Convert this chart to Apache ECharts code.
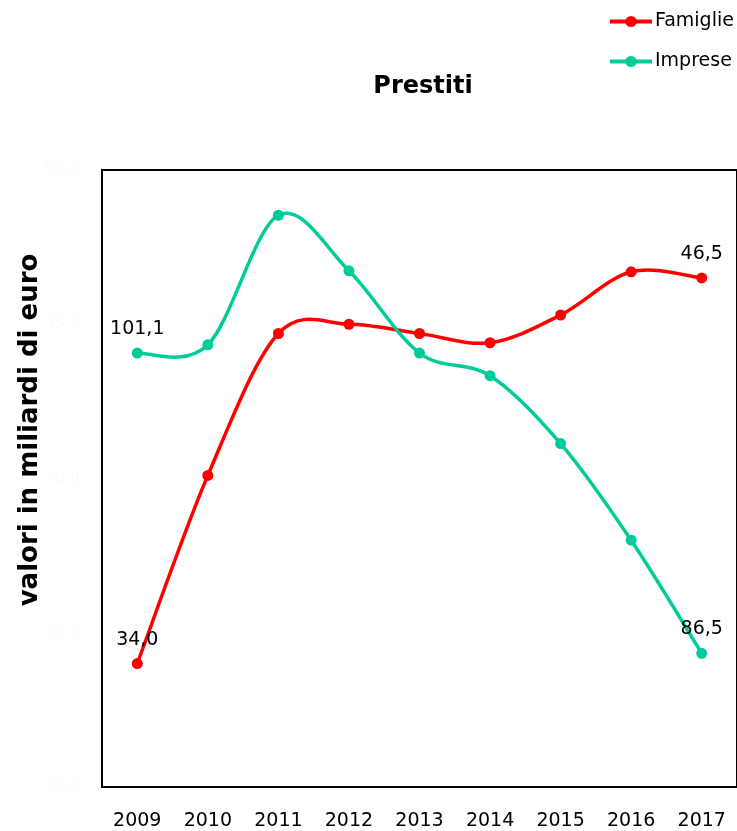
<!DOCTYPE html>
<html><head><meta charset="utf-8">
<script src="https://cdn.jsdelivr.net/npm/echarts@6/dist/echarts.min.js"></script>
<style>html,body{margin:0;padding:0;background:#fff}#c{width:737px;height:831px}</style>
</head><body><div id="c"></div>
<script>
const years = ['2009','2010','2011','2012','2013','2014','2015','2016','2017'];
const famiglie = [34.0, 40.1, 44.7, 45.0, 44.7, 44.4, 45.3, 46.7, 46.5];
const imprese = [101.1, 101.5, 107.8, 105.1, 101.1, 100.0, 96.7, 92.0, 86.5];
const leftTicks = [30, 35, 40, 45, 50];
const rightRange = [80, 110];

const FONT = 'DejaVu Sans';
const RED = '#ff0000', TEAL = '#00cc99';
const fmt = v => v.toFixed(1).replace('.', ',');
const endLabel = {
  show: true, position: 'top', distance: 9, color: '#000',
  fontFamily: FONT, fontSize: 19,
  formatter: p => (p.dataIndex === 0 || p.dataIndex === years.length - 1) ? fmt(p.value) : ''
};

// Catmull-Rom style smoothed segment (as in spreadsheet smoothed lines), positions via the chart's own scales
function smoothSeg(values, color) {
  return function (params, api) {
    const i = params.dataIndex, n = values.length;
    if (i >= n - 1) return null;
    const c = k => api.coord([Math.max(0, Math.min(n - 1, k)), values[Math.max(0, Math.min(n - 1, k))]]);
    const p0 = c(i - 1), p1 = c(i), p2 = c(i + 1), p3 = c(i + 2);
    const t = 1 / 6;
    return {
      type: 'bezierCurve',
      shape: {
        x1: p1[0], y1: p1[1], x2: p2[0], y2: p2[1],
        cpx1: p1[0] + (p2[0] - p0[0]) * t, cpy1: p1[1] + (p2[1] - p0[1]) * t,
        cpx2: p2[0] - (p3[0] - p1[0]) * t, cpy2: p2[1] - (p3[1] - p1[1]) * t
      },
      style: {stroke: color, lineWidth: 3.5, fill: null, lineCap: 'round'}
    };
  };
}

const chart = echarts.init(document.getElementById('c'), null, {renderer: 'canvas'});
chart.setOption({
  animation: false,
  backgroundColor: '#fff',
  textStyle: {fontFamily: FONT, color: '#000'},
  title: {
    text: 'Prestiti', left: 418, top: 70, textAlign: 'center',
    textStyle: {fontFamily: FONT, fontWeight: 'bold', fontSize: 24, color: '#000'}
  },
  legend: {
    orient: 'vertical', left: 608, top: 12, padding: 0, itemWidth: 42, itemHeight: 14, itemGap: 21,
    lineStyle: {width: 4, opacity: 1},
    textStyle: {fontFamily: FONT, fontSize: 19, color: '#000', padding: [0, 0, 0, -2]},
    data: ['Famiglie', 'Imprese']
  },
  graphic: [{
    type: 'text', x: 30, y: 430, rotation: Math.PI / 2,
    style: {text: 'valori in miliardi di euro', fontFamily: FONT, fontWeight: 'bold',
      fontSize: 26, fill: '#000', align: 'center', verticalAlign: 'middle'}
  }],
  grid: {left: 102, top: 170, width: 638, height: 618, show: true,
    borderColor: '#000', borderWidth: 2, backgroundColor: 'transparent', containLabel: false},
  xAxis: {
    type: 'category', data: years, boundaryGap: true,
    axisLine: {show: false}, axisTick: {show: false},
    axisLabel: {color: '#000', fontFamily: FONT, fontSize: 19, margin: 25}
  },
  yAxis: [{
    type: 'value', min: leftTicks[0], max: leftTicks[leftTicks.length - 1], interval: 5,
    axisLine: {show: false}, axisTick: {show: false}, splitLine: {show: false},
    axisLabel: {color: '#fbfbfb', fontFamily: FONT, fontSize: 16, margin: 22, formatter: fmt}
  }, {
    type: 'value', min: rightRange[0], max: rightRange[1],
    axisLine: {show: false}, axisTick: {show: false}, splitLine: {show: false},
    axisLabel: {show: false}
  }],
  series: [{
    name: 'famiglieCurve', type: 'custom', yAxisIndex: 0, z: 1,
    data: famiglie.map((v, i) => [i, v]), renderItem: smoothSeg(famiglie, RED)
  }, {
    name: 'impreseCurve', type: 'custom', yAxisIndex: 1, z: 1,
    data: imprese.map((v, i) => [i, v]), renderItem: smoothSeg(imprese, TEAL)
  }, {
    name: 'Famiglie', type: 'line', yAxisIndex: 0, data: famiglie, z: 3,
    symbol: 'circle', symbolSize: 11, color: RED,
    lineStyle: {width: 3.5, color: RED, opacity: 0}, itemStyle: {color: RED},
    label: endLabel
  }, {
    name: 'Imprese', type: 'line', yAxisIndex: 1, data: imprese, z: 3,
    symbol: 'circle', symbolSize: 11, color: TEAL,
    lineStyle: {width: 3.5, color: TEAL, opacity: 0}, itemStyle: {color: TEAL},
    label: endLabel
  }]
});
</script></body></html>
